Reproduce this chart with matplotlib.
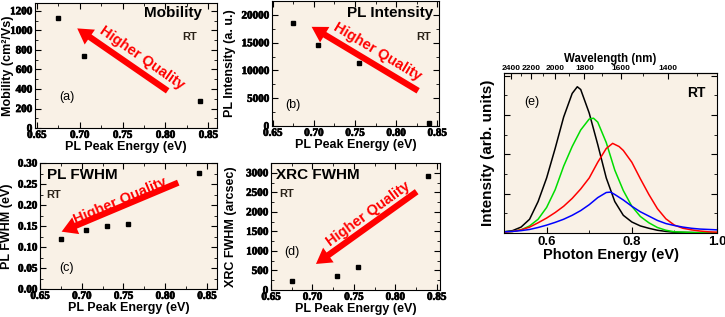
"""PL / mobility / XRC vs PL peak energy, plus RT PL spectra."""
import matplotlib
matplotlib.use("Agg")
import matplotlib.pyplot as plt
import matplotlib.patheffects as pe
from matplotlib.ticker import AutoMinorLocator, FixedLocator

plt.rcParams["font.family"] = ["Liberation Sans", "DejaVu Sans"]

BG = "#f9f1e6"
SERIF = "Liberation Serif"

# ---- panel data -------------------------------------------------------
mob_e = [0.675, 0.705, 0.84]
mob_v = [1130, 740, 280]

pli_e = [0.675, 0.705, 0.755, 0.84]
pli_v = [18500, 14600, 11300, 600]

plw_e = [0.675, 0.705, 0.73, 0.755, 0.84]
plw_v = [0.119, 0.141, 0.151, 0.155, 0.277]

xrc_e = [0.675, 0.73, 0.755, 0.84]
xrc_v = [230, 350, 600, 2920]

x_ticks = [0.65, 0.70, 0.75, 0.80, 0.85]

# ---- spectra (e), arb. units ------------------------------------------
blk_e = [0.50, 0.52, 0.54, 0.56, 0.58, 0.60, 0.62, 0.64, 0.66, 0.672, 0.68,
         0.70, 0.72, 0.74, 0.76, 0.78, 0.80, 0.82, 0.84, 0.86, 0.88, 0.90,
         0.95, 1.00]
blk_i = [0.03, 0.06, 0.15, 0.35, 0.80, 1.40, 2.15, 2.95, 3.55, 3.72, 3.65,
         3.05, 2.25, 1.40, 0.80, 0.45, 0.28, 0.18, 0.12, 0.07, 0.04, 0.02,
         0.01, 0.00]

grn_e = [0.50, 0.52, 0.54, 0.56, 0.58, 0.60, 0.62, 0.64, 0.66, 0.68, 0.70,
         0.71, 0.72, 0.74, 0.76, 0.78, 0.80, 0.82, 0.84, 0.86, 0.88, 0.90,
         0.95, 1.00]
grn_i = [0.03, 0.04, 0.08, 0.18, 0.35, 0.65, 1.10, 1.70, 2.20, 2.62, 2.90,
         2.92, 2.82, 2.30, 1.60, 1.08, 0.68, 0.42, 0.26, 0.14, 0.07, 0.03,
         0.01, 0.01]

red_e = [0.50, 0.52, 0.54, 0.56, 0.58, 0.60, 0.62, 0.64, 0.66, 0.68, 0.70,
         0.72, 0.74, 0.755, 0.77, 0.78, 0.80, 0.82, 0.84, 0.86, 0.88, 0.90,
         0.92, 0.94, 0.96, 0.98, 1.00]
red_i = [0.02, 0.04, 0.08, 0.15, 0.26, 0.38, 0.52, 0.68, 0.88, 1.12, 1.40,
         1.80, 2.15, 2.28, 2.20, 2.10, 1.80, 1.38, 0.98, 0.62, 0.36, 0.20,
         0.12, 0.08, 0.05, 0.03, 0.02]

blu_e = [0.50, 0.52, 0.54, 0.56, 0.58, 0.60, 0.62, 0.64, 0.66, 0.68, 0.70,
         0.72, 0.74, 0.75, 0.76, 0.78, 0.80, 0.82, 0.84, 0.86, 0.88, 0.90,
         0.92, 0.94, 0.96, 0.98, 1.00]
blu_i = [0.03, 0.04, 0.06, 0.09, 0.14, 0.20, 0.27, 0.35, 0.45, 0.57, 0.72,
         0.90, 1.03, 1.04, 0.98, 0.84, 0.68, 0.54, 0.43, 0.32, 0.24, 0.19,
         0.15, 0.12, 0.10, 0.09, 0.08]

wl_ticks = [2400, 2200, 2000, 1800, 1600, 1400]

heavy = [pe.withStroke(linewidth=0.5, foreground="black")]


def style_ticks(ax):
    ax.tick_params(which="both", direction="in", top=True, right=True)
    ax.tick_params(which="major", length=4, width=0.8, pad=2)
    ax.tick_params(which="minor", length=2, width=0.6)


def scatter_panel(ax, x, y, xlim, ylim, yticks, yfmt, ylabel, ylab_x, title,
                  title_xy, title_ha, rt_xy, rt_ha, tag, tag_xy, tail, head,
                  txt_xy, rot):
    ax.set_facecolor(BG)
    ax.plot(x, y, "s", color="black", ms=3)
    ax.set_xlim(*xlim)
    ax.set_ylim(*ylim)
    ax.set_xticks(x_ticks, [f"{v:.2f}" for v in x_ticks])
    ax.set_yticks(yticks, [yfmt.format(v) for v in yticks])
    ax.xaxis.set_minor_locator(AutoMinorLocator(2))
    ax.yaxis.set_minor_locator(AutoMinorLocator(2))
    style_ticks(ax)
    for lbl in ax.get_xticklabels() + ax.get_yticklabels():
        lbl.set_fontfamily(SERIF)
        lbl.set_fontweight("bold")
        lbl.set_fontsize(8)
        lbl.set_path_effects(heavy)
    ax.set_xlabel("PL Peak Energy (eV)", fontsize=9, fontweight="bold", labelpad=1)
    ax.set_ylabel(ylabel, fontsize=9, fontweight="bold")
    ax.yaxis.set_label_coords(ylab_x, 0.5)
    ax.text(*title_xy, title, transform=ax.transAxes, ha=title_ha, va="top",
            fontsize=11, fontweight="bold")
    ax.text(*rt_xy, "RT", transform=ax.transAxes, ha=rt_ha, va="center",
            fontsize=8, fontweight="bold", color="#2a2218")
    ax.text(*tag_xy, tag, transform=ax.transAxes, ha="center", va="center",
            fontsize=9)
    ax.annotate("", xy=head, xytext=tail, xycoords="axes fraction",
                textcoords="axes fraction",
                arrowprops=dict(arrowstyle="simple,head_length=1.1,head_width=1.3,tail_width=0.45",
                                mutation_scale=10, color="red", lw=0,
                                shrinkA=0, shrinkB=0))
    ax.text(*txt_xy, "Higher Quality", transform=ax.transAxes, rotation=rot,
            rotation_mode="anchor", ha="center", va="center", fontsize=10.5,
            fontweight="bold", color="red")


fig = plt.figure(figsize=(7.25, 3.17), dpi=100)

ax_a = fig.add_axes([0.0483, 0.596, 0.251, 0.394])
scatter_panel(ax_a, mob_e, mob_v, (0.648, 0.86), (0, 1278),
              [0, 200, 400, 600, 800, 1000, 1200], "{:.0f}",
              "Mobility (cm²/Vs)", -0.118, "Mobility", (0.916, 0.976), "right",
              (0.848, 0.73), "center", "(a)", (0.174, 0.25),
              (0.729, 0.298), (0.232, 0.798), (0.585, 0.56), -35)

ax_b = fig.add_axes([0.375, 0.6025, 0.2303, 0.394])
scatter_panel(ax_b, pli_e, pli_v, (0.649, 0.852), (0, 22500),
              [0, 5000, 10000, 15000, 20000], "{:.0f}",
              "PL Intensity (a. u.)", -0.216, "PL Intensity", (0.966, 0.96), "right",
              (0.91, 0.714), "center", "(b)", (0.128, 0.168),
              (0.876, 0.282), (0.238, 0.794), (0.635, 0.595), -31)

ax_c = fig.add_axes([0.0552, 0.0883, 0.2441, 0.3975])
scatter_panel(ax_c, plw_e, plw_v, (0.65, 0.862), (0, 0.30),
              [0, 0.05, 0.10, 0.15, 0.20, 0.25, 0.30], "{:.2f}",
              "PL FWHM (eV)", -0.153, "PL FWHM", (0.038, 0.958), "left",
              (0.038, 0.75), "left", "(c)", (0.151, 0.164),
              (0.781, 0.844), (0.122, 0.455), (0.455, 0.70), 23)

ax_d = fig.add_axes([0.3738, 0.0852, 0.2331, 0.4006])
scatter_panel(ax_d, xrc_e, xrc_v, (0.65, 0.854), (0, 3250),
              [0, 500, 1000, 1500, 2000, 2500, 3000], "{:.0f}",
              "XRC FWHM (arcsec)", -0.201, "XRC FWHM", (0.03, 0.958), "left",
              (0.05, 0.754), "left", "(d)", (0.126, 0.302),
              (0.862, 0.774), (0.266, 0.205), (0.575, 0.60), 36)

# ---- (e) spectra ---------------------------------------------------------
ax_e = fig.add_axes([0.6952, 0.265, 0.2938, 0.5047])
ax_e.set_facecolor(BG)
ax_e.plot(blk_e, blk_i, color="black", lw=1.1)
ax_e.plot(grn_e, grn_i, color="#00dd00", lw=1.1)
ax_e.plot(red_e, red_i, color="red", lw=1.1)
ax_e.plot(blu_e, blu_i, color="blue", lw=1.1)
ax_e.set_xlim(0.5, 1.0)
ax_e.set_ylim(0, 4.07)
ax_e.set_xticks([0.6, 0.8, 1.0], ["0.6", "0.8", "1.0"], fontsize=9.5,
                fontweight="bold")
ax_e.set_yticks([1, 2, 3, 4], [])
ax_e.xaxis.set_minor_locator(AutoMinorLocator(2))
ax_e.yaxis.set_minor_locator(AutoMinorLocator(2))
ax_e.tick_params(which="both", direction="in", right=True)
ax_e.tick_params(which="major", length=4, width=0.8, pad=2)
ax_e.tick_params(which="minor", length=2, width=0.6)
ax_e.set_xlabel("Photon Energy (eV)", fontsize=10.5, fontweight="bold", labelpad=0)
ax_e.set_ylabel("Intensity (arb. units)", fontsize=11, fontweight="bold")
ax_e.yaxis.set_label_coords(-0.042, 0.5)
ax_e.text(0.13, 0.82, "(e)", transform=ax_e.transAxes, ha="center", va="center",
          fontsize=9)
ax_e.text(0.947, 0.873, "RT", transform=ax_e.transAxes, ha="right", va="center",
          fontsize=10, fontweight="bold")

top = ax_e.secondary_xaxis("top", functions=(lambda e: 1239.84 / e,
                                             lambda w: 1239.84 / w))
top.set_xticks(wl_ticks, [str(w) for w in wl_ticks], fontsize=6,
               fontweight="bold")
top.xaxis.set_minor_locator(FixedLocator(list(range(1300, 2500, 100))))
top.tick_params(which="both", direction="in", pad=1)
top.tick_params(which="major", length=4, width=0.8)
top.tick_params(which="minor", length=2, width=0.6)
top.set_xlabel("Wavelength (nm)", fontsize=8.3, fontweight="bold", labelpad=2)

fig.savefig("out.png", dpi=100)
